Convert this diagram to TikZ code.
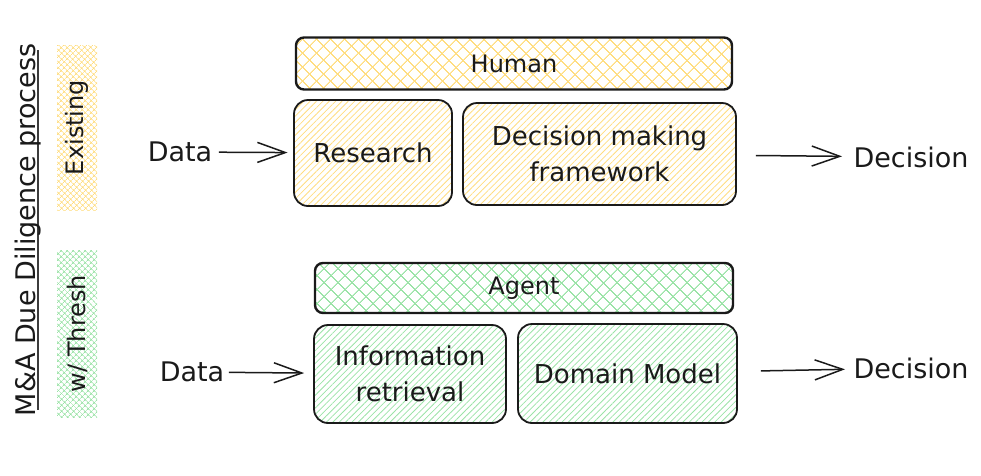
\documentclass[tikz,border=0pt]{standalone}
\usepackage{fontspec}
\setmainfont{DejaVu Sans}
\usetikzlibrary{arrows.meta,patterns.meta}
\definecolor{ink}{HTML}{1A1A1A}
\definecolor{yel}{HTML}{FFDD80}
\definecolor{grn}{HTML}{9BE3A7}

\begin{document}
\begin{tikzpicture}[x=1pt,y=-1pt,
    box/.style={draw=ink,line width=1.8pt,rounded corners=14pt,align=center,
        font=\fontsize{26}{36}\selectfont,text=ink,inner sep=0pt},
    topbox/.style={draw=ink,line width=2.4pt,rounded corners=8pt,
        font=\fontsize{24}{28}\selectfont,text=ink,inner sep=0pt},
    lines/.style={pattern={Lines[angle=45,distance=4.5pt,line width=0.8pt]},pattern color=#1},
    cross/.style={pattern={Hatch[angle=45,distance=10.5pt,line width=1.2pt]},pattern color=#1},
    finecross/.style={pattern={Hatch[angle=45,distance=4pt,line width=0.7pt]},pattern color=#1},
    strip/.style={rotate=90,minimum height=40pt,inner sep=0pt,
        font=\fontsize{24}{28}\selectfont,text=ink},
    lbl/.style={font=\fontsize{27}{32}\selectfont,text=ink},
    >={Straight Barb[length=28pt,width=20pt,line width=1.5pt]}]
    \useasboundingbox (0,0) rectangle (981,475);

    % left side
    \coordinate (ltop) at (38,50);
    \coordinate (lbot) at (38,410);
    \draw[line width=2.6pt,ink!85] (ltop) -- (lbot);
    \node[rotate=90,anchor=base,font=\fontsize{27}{30}\selectfont,text=ink] (title) at (35,230) {M\&A Due Diligence process};
    \node[strip,finecross=yel,minimum width=165pt] (existing) at (77,127.5) {Existing};
    \node[strip,finecross=grn,minimum width=167pt] (thresh) at (77,333.5) {w/ Thresh};

    % existing process
    \node[topbox,cross=yel,minimum width=436pt,minimum height=52pt] (human) at (514,63.5) {Human};
    \node[box,lines=yel,minimum width=158pt,minimum height=106pt] (research) at (373,153) {Research};
    \node[box,lines=yel,minimum width=273pt,minimum height=102pt] (decide) at (599.5,154) {Decision making\\framework};
    \node[lbl] (data1) at (180,152) {Data};
    \node[lbl] (dec1) at (911,157) {Decision};
    \draw[->,line width=1.5pt,ink,shorten <=3pt,shorten >=6pt] (data1) -- (research);
    \draw[->,line width=1.5pt,ink,shorten <=19pt,shorten >=8pt] (decide) -- (dec1);

    % with thresh
    \node[topbox,cross=grn,minimum width=418pt,minimum height=50pt] (agent) at (524,288) {Agent};
    \node[box,lines=grn,minimum width=192pt,minimum height=98pt] (info) at (410,374) {Information\\retrieval};
    \node[box,lines=grn,minimum width=219pt,minimum height=99pt] (domain) at (627.5,373.5) {Domain Model};
    \node[lbl] (data2) at (192,372) {Data};
    \node[lbl] (dec2) at (911,368) {Decision};
    \draw[->,line width=1.5pt,ink,shorten <=1pt,shorten >=9pt] (data2) -- (info);
    \draw[->,line width=1.5pt,ink,shorten <=23pt,shorten >=5pt] (domain) -- (dec2);
\end{tikzpicture}
\end{document}
